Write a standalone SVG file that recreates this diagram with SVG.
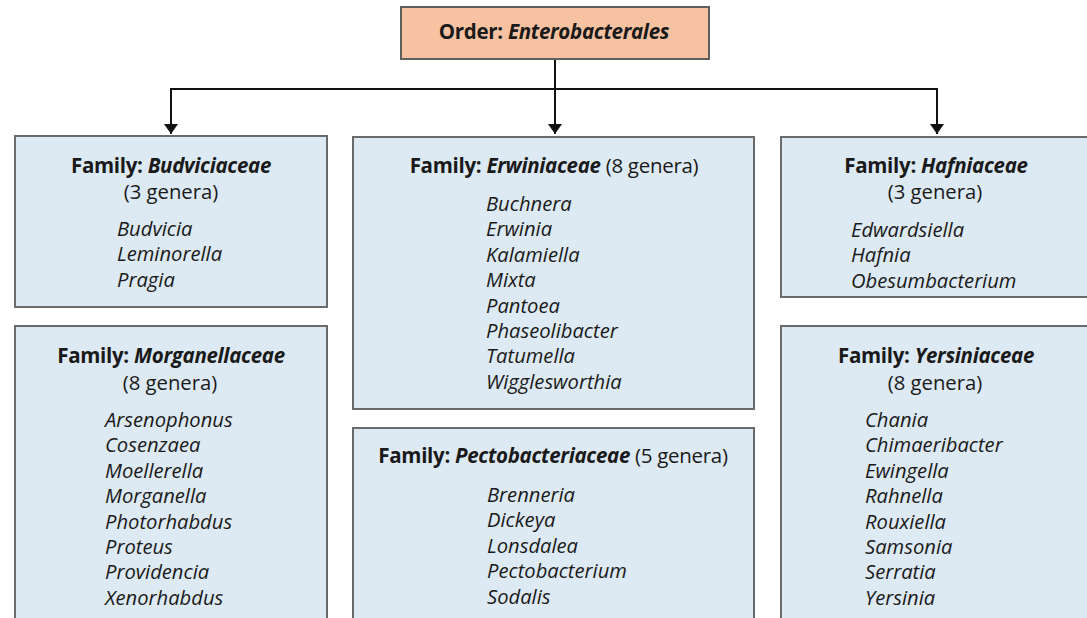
<svg xmlns="http://www.w3.org/2000/svg" width="1087" height="618" viewBox="0 0 1087 618">
  <style>
    .box { fill: #dde9f3; stroke: #6a6a6a; stroke-width: 2; }
    .order { fill: #f6c2a2; stroke: #5e5e5e; stroke-width: 2; }
    text { font-family: "Open Sans", "Liberation Sans", sans-serif; fill: #1a1a1a; }
    .title { font-size: 20.5px; font-weight: bold; text-anchor: middle; letter-spacing: -0.3px; }
    .title .n { font-style: italic; }
    .title .c { font-weight: normal; }
    .count { font-size: 20.3px; text-anchor: middle; }
    .genus { font-size: 20.2px; font-style: italic; }
    .link { fill: none; stroke: #111; stroke-width: 2; }
  </style>
  <defs>
    <marker id="arrow" viewBox="0 0 10 14" refX="10" refY="7" markerWidth="10" markerHeight="14" markerUnits="userSpaceOnUse" orient="auto">
      <path d="M0,0 L10,7 L0,14 Z" fill="#111"/>
    </marker>
  </defs>

  <rect width="1087" height="618" fill="#ffffff"/>

  <!-- connectors -->
  <g id="connectors">
    <line class="link" x1="555" y1="60" x2="555" y2="134" marker-end="url(#arrow)"/>
    <polyline class="link" points="171,89 937,89"/>
    <line class="link" x1="171" y1="88" x2="171" y2="134" marker-end="url(#arrow)"/>
    <line class="link" x1="937" y1="88" x2="937" y2="134" marker-end="url(#arrow)"/>
  </g>

  <!-- order -->
  <g id="order">
    <rect class="order" x="401" y="7" width="308" height="52"/>
    <text class="title" x="554" y="39">Order: <tspan class="n">Enterobacterales</tspan></text>
  </g>

  <!-- Budviciaceae -->
  <g id="budviciaceae">
    <rect class="box" x="15" y="136" width="312" height="171"/>
    <text class="title" x="171" y="173">Family: <tspan class="n">Budviciaceae</tspan></text>
    <text class="count" x="171" y="199">(3 genera)</text>
    <text class="genus" x="117" y="235.5">Budvicia</text>
    <text class="genus" x="117" y="261">Leminorella</text>
    <text class="genus" x="117" y="286.5">Pragia</text>
  </g>

  <!-- Morganellaceae -->
  <g id="morganellaceae">
    <rect class="box" x="15" y="326" width="312" height="300"/>
    <text class="title" x="171" y="363">Family: <tspan class="n">Morganellaceae</tspan></text>
    <text class="count" x="170" y="390">(8 genera)</text>
    <text class="genus" x="105" y="427">Arsenophonus</text>
    <text class="genus" x="105" y="452.4">Cosenzaea</text>
    <text class="genus" x="105" y="477.8">Moellerella</text>
    <text class="genus" x="105" y="503.2">Morganella</text>
    <text class="genus" x="105" y="528.6">Photorhabdus</text>
    <text class="genus" x="105" y="554">Proteus</text>
    <text class="genus" x="105" y="579.4">Providencia</text>
    <text class="genus" x="105" y="604.8">Xenorhabdus</text>
  </g>

  <!-- Erwiniaceae -->
  <g id="erwiniaceae">
    <rect class="box" x="353" y="137" width="401" height="272"/>
    <text class="title" x="554" y="173">Family: <tspan class="n">Erwiniaceae</tspan><tspan class="c"> (8 genera)</tspan></text>
    <text class="genus" x="486" y="211">Buchnera</text>
    <text class="genus" x="486" y="236.4">Erwinia</text>
    <text class="genus" x="486" y="261.8">Kalamiella</text>
    <text class="genus" x="486" y="287.2">Mixta</text>
    <text class="genus" x="486" y="312.6">Pantoea</text>
    <text class="genus" x="486" y="338">Phaseolibacter</text>
    <text class="genus" x="486" y="363.4">Tatumella</text>
    <text class="genus" x="486" y="388.8">Wigglesworthia</text>
  </g>

  <!-- Pectobacteriaceae -->
  <g id="pectobacteriaceae">
    <rect class="box" x="353" y="428" width="401" height="200"/>
    <text class="title" x="553" y="463">Family: <tspan class="n">Pectobacteriaceae</tspan><tspan class="c"> (5 genera)</tspan></text>
    <text class="genus" x="487" y="502">Brenneria</text>
    <text class="genus" x="487" y="527.4">Dickeya</text>
    <text class="genus" x="487" y="552.8">Lonsdalea</text>
    <text class="genus" x="487" y="578.2">Pectobacterium</text>
    <text class="genus" x="487" y="603.6">Sodalis</text>
  </g>

  <!-- Hafniaceae -->
  <g id="hafniaceae">
    <rect class="box" x="781" y="137" width="320" height="160"/>
    <text class="title" x="936" y="173">Family: <tspan class="n">Hafniaceae</tspan></text>
    <text class="count" x="935" y="199">(3 genera)</text>
    <text class="genus" x="851" y="236.5">Edwardsiella</text>
    <text class="genus" x="851" y="262">Hafnia</text>
    <text class="genus" x="851" y="287.5">Obesumbacterium</text>
  </g>

  <!-- Yersiniaceae -->
  <g id="yersiniaceae">
    <rect class="box" x="781" y="326" width="320" height="300"/>
    <text class="title" x="936" y="363">Family: <tspan class="n">Yersiniaceae</tspan></text>
    <text class="count" x="935" y="390">(8 genera)</text>
    <text class="genus" x="865" y="427">Chania</text>
    <text class="genus" x="865" y="452.4">Chimaeribacter</text>
    <text class="genus" x="865" y="477.8">Ewingella</text>
    <text class="genus" x="865" y="503.2">Rahnella</text>
    <text class="genus" x="865" y="528.6">Rouxiella</text>
    <text class="genus" x="865" y="554">Samsonia</text>
    <text class="genus" x="865" y="579.4">Serratia</text>
    <text class="genus" x="865" y="604.8">Yersinia</text>
  </g>
</svg>
